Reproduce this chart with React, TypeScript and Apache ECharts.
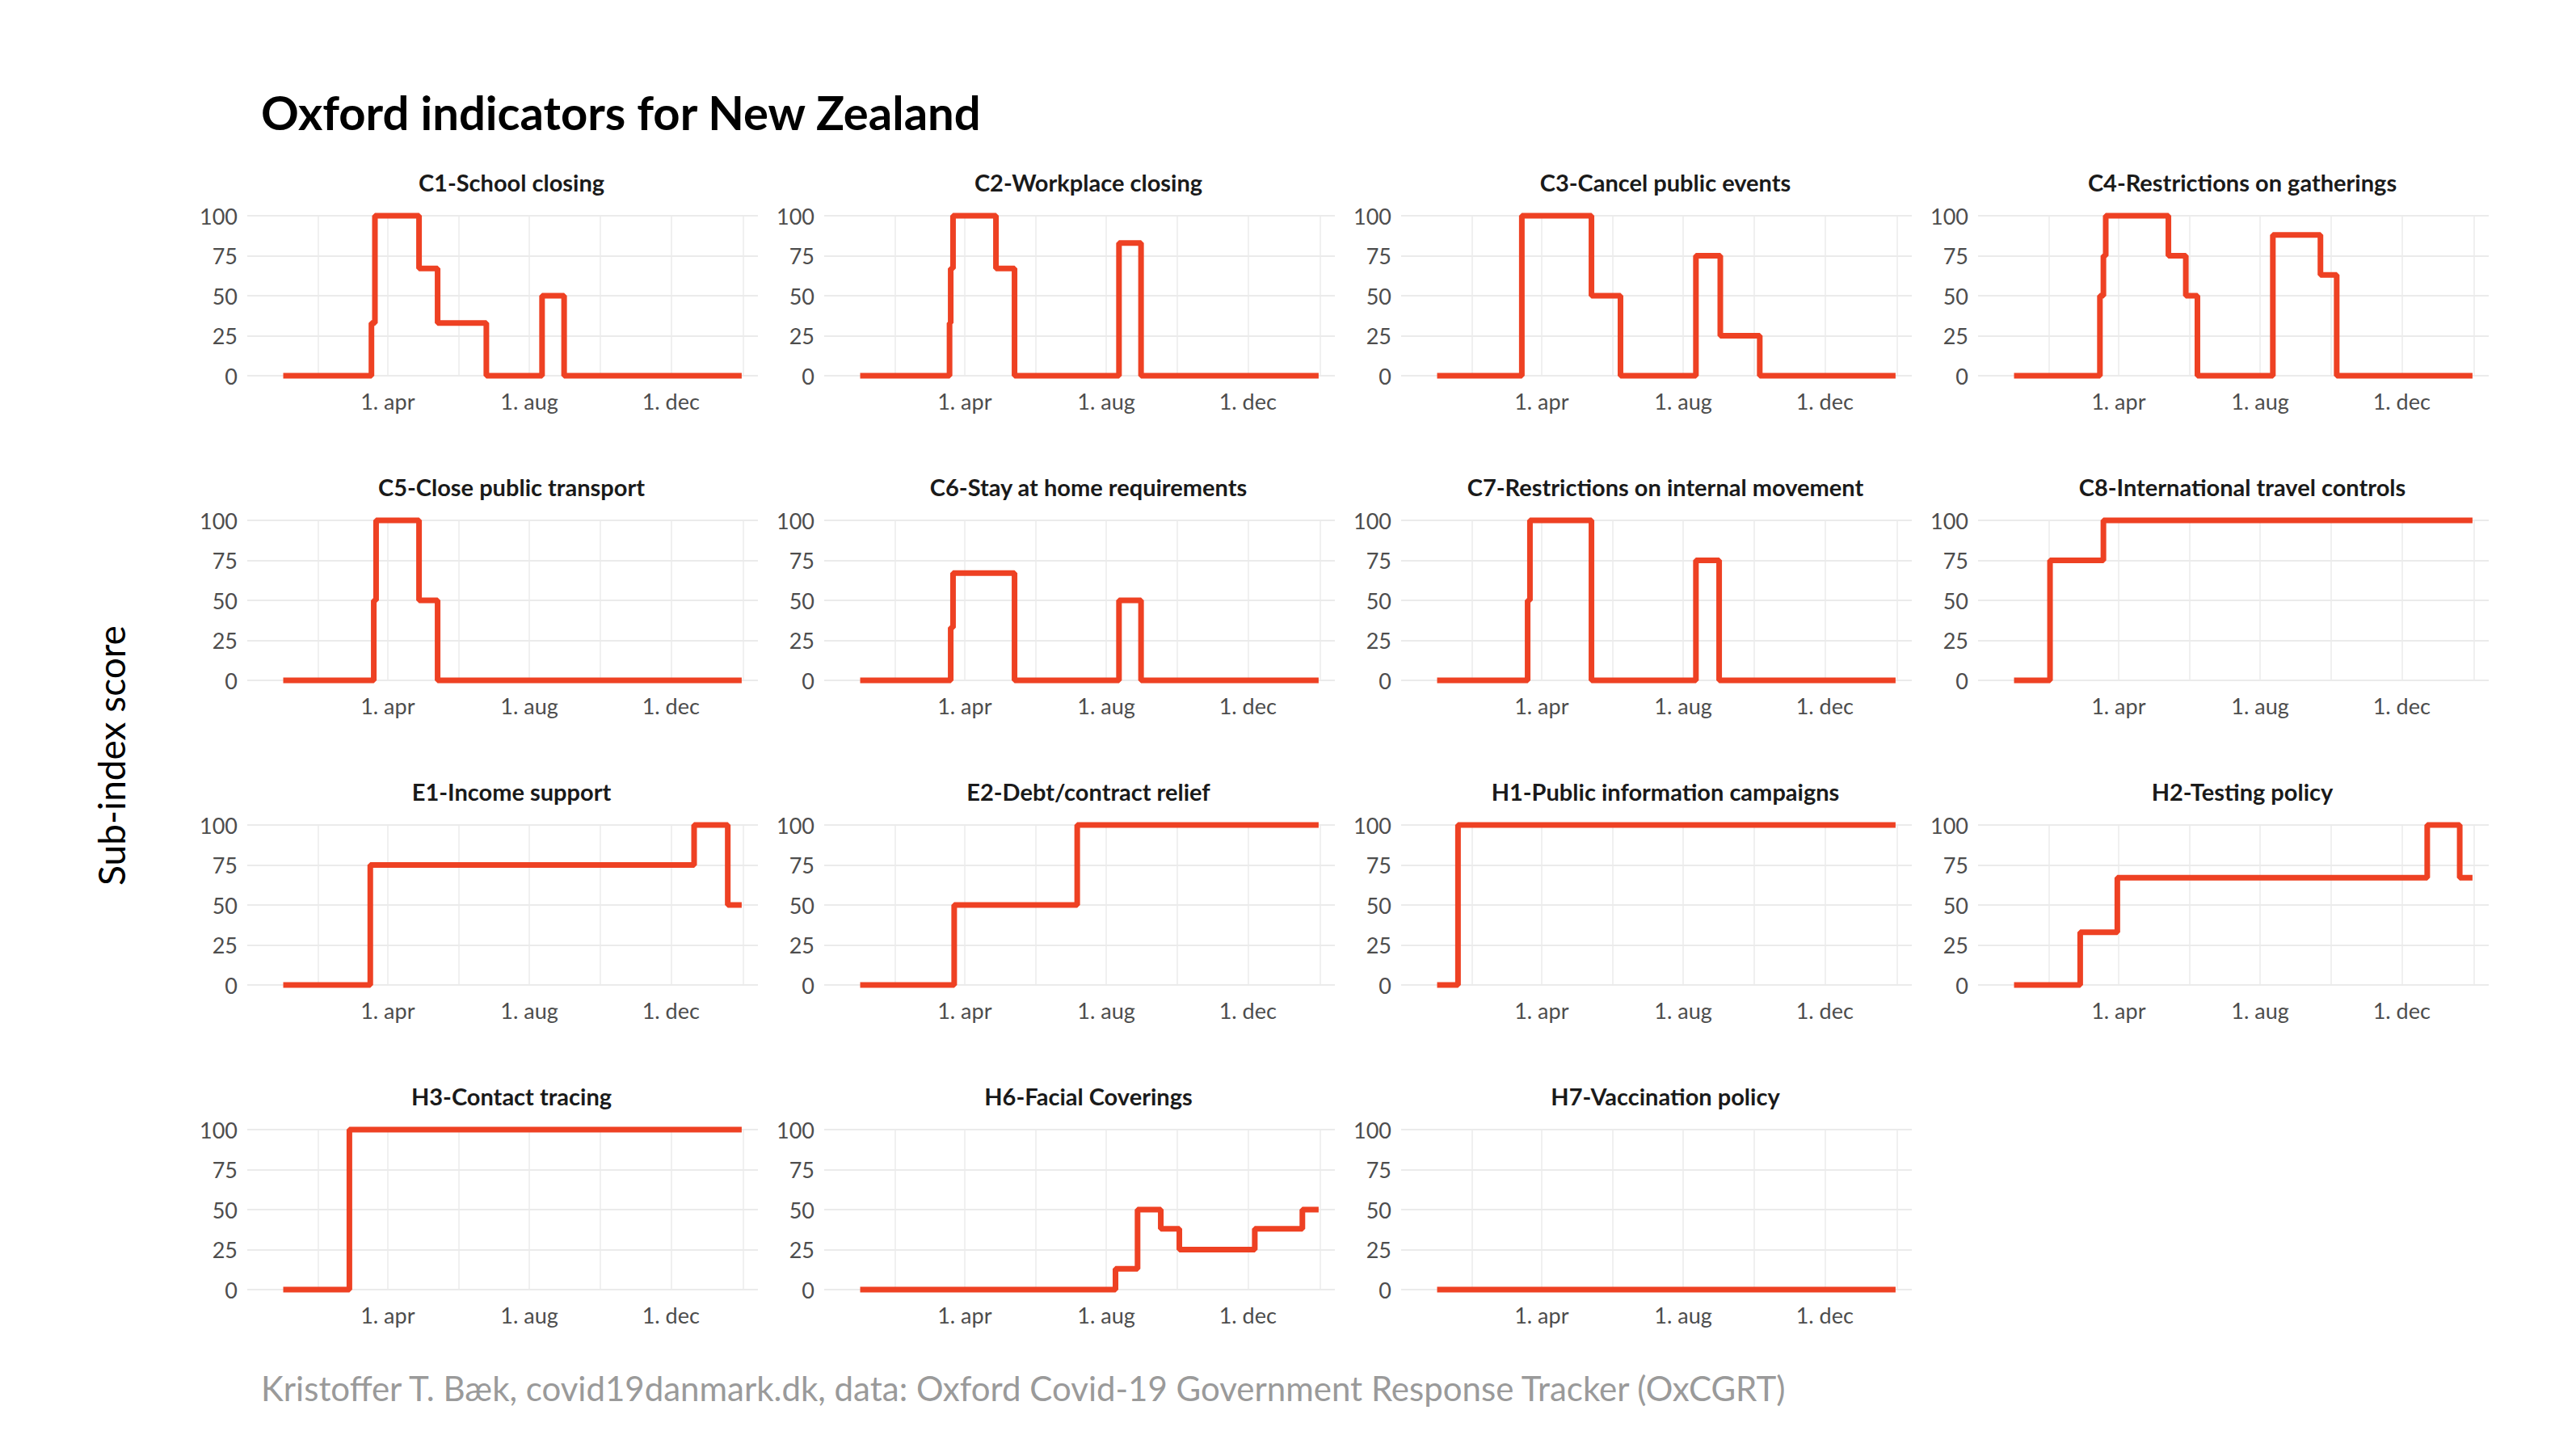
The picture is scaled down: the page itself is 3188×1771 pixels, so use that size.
import React, { useEffect, useRef } from 'react';
import * as echarts from 'echarts';

// step changes: [date from which the value holds, value]
const titles: string[] = [
  'C1-School closing', 'C2-Workplace closing', 'C3-Cancel public events', 'C4-Restrictions on gatherings',
  'C5-Close public transport', 'C6-Stay at home requirements', 'C7-Restrictions on internal movement', 'C8-International travel controls',
  'E1-Income support', 'E2-Debt/contract relief', 'H1-Public information campaigns', 'H2-Testing policy',
  'H3-Contact tracing', 'H6-Facial Coverings', 'H7-Vaccination policy',
];

const c1: [string, number][] = [['2020-01-02', 0], ['2020-03-18', 33], ['2020-03-21', 100], ['2020-04-28', 67], ['2020-05-14', 33], ['2020-06-25', 0], ['2020-08-12', 50], ['2020-08-31', 0]];
const c2: [string, number][] = [['2020-01-02', 0], ['2020-03-19', 33], ['2020-03-20', 67], ['2020-03-22', 100], ['2020-04-28', 67], ['2020-05-14', 0], ['2020-08-12', 83], ['2020-08-31', 0]];
const c3: [string, number][] = [['2020-01-02', 0], ['2020-03-15', 100], ['2020-05-14', 50], ['2020-06-08', 0], ['2020-08-12', 75], ['2020-09-02', 25], ['2020-10-06', 0]];
const c4: [string, number][] = [['2020-01-02', 0], ['2020-03-16', 50], ['2020-03-19', 75], ['2020-03-21', 100], ['2020-05-14', 75], ['2020-05-29', 50], ['2020-06-08', 0], ['2020-08-12', 88], ['2020-09-22', 63], ['2020-10-06', 0]];
const c5: [string, number][] = [['2020-01-02', 0], ['2020-03-20', 50], ['2020-03-22', 100], ['2020-04-28', 50], ['2020-05-14', 0]];
const c6: [string, number][] = [['2020-01-02', 0], ['2020-03-20', 33], ['2020-03-22', 67], ['2020-05-14', 0], ['2020-08-12', 50], ['2020-08-31', 0]];
const c7: [string, number][] = [['2020-01-02', 0], ['2020-03-20', 50], ['2020-03-22', 100], ['2020-05-14', 0], ['2020-08-12', 75], ['2020-09-01', 0]];
const c8: [string, number][] = [['2020-01-02', 0], ['2020-02-02', 75], ['2020-03-19', 100]];
const e1: [string, number][] = [['2020-01-02', 0], ['2020-03-17', 75], ['2020-12-21', 100], ['2021-01-19', 50]];
const e2: [string, number][] = [['2020-01-02', 0], ['2020-03-23', 50], ['2020-07-07', 100]];
const h1: [string, number][] = [['2020-01-02', 0], ['2020-01-20', 100]];
const h2: [string, number][] = [['2020-01-02', 0], ['2020-02-28', 33], ['2020-03-31', 67], ['2020-12-23', 100], ['2021-01-20', 67]];
const h3: [string, number][] = [['2020-01-02', 0], ['2020-02-28', 100]];
const h6: [string, number][] = [['2020-01-02', 0], ['2020-08-09', 13], ['2020-08-28', 50], ['2020-09-17', 38], ['2020-10-03', 25], ['2020-12-07', 38], ['2021-01-17', 50]];
const h7: [string, number][] = [['2020-01-02', 0]];
const indicators = [c1, c2, c3, c4, c5, c6, c7, c8, e1, e2, h1, h2, h3, h6, h7];

const endDate = '2021-01-31';
const tickDates: string[] = ['2020-04-01', '2020-08-01', '2020-12-01'];
const gridDates: string[] = ['2020-02-01', '2020-04-01', '2020-06-01', '2020-08-01', '2020-10-01', '2020-12-01', '2021-02-01'];
const monthNames = ['jan', 'feb', 'mar', 'apr', 'maj', 'jun', 'jul', 'aug', 'sep', 'okt', 'nov', 'dec'];

const ts = (d: string) => new Date(d + 'T00:00:00Z').getTime();

const App: React.FC = () => {
  const chartRef = useRef<HTMLDivElement>(null);

  useEffect(() => {
    document.body.style.margin = '0';
    if (!chartRef.current) return;
    const chart = echarts.init(chartRef.current, undefined, { renderer: 'svg' });

    const grids: any[] = [];
    const xAxes: any[] = [];
    const yAxes: any[] = [];
    const series: any[] = [];
    const titleTexts: any[] = [];

    indicators.forEach((steps, i) => {
      const r = Math.floor(i / 4);
      const c = i % 4;
      const left = 306 + c * 714;
      const top = 267 + r * 377;
      grids.push({ left, top, width: 632, height: 198 });
      titleTexts.push({
        text: titles[i], left: left + 322, top: top - 61, textAlign: 'center',
        textStyle: { fontFamily: 'Lato', fontWeight: 'bold', fontSize: 29, color: '#1a1a1a' },
      });
      xAxes.push({
        type: 'value', gridIndex: i, min: ts('2019-12-02'), max: ts('2021-02-14'),
        axisLine: { show: false }, axisTick: { show: false }, splitLine: { show: false },
        axisLabel: {
          customValues: tickDates.map(ts), margin: 18, color: '#4d4d4d', fontSize: 27, fontFamily: 'Lato',
          formatter: (v: number) => '1. ' + monthNames[new Date(v).getUTCMonth()],
        },
      });
      yAxes.push({
        type: 'value', gridIndex: i, min: 0, max: 100, interval: 25,
        axisLine: { show: false }, axisTick: { show: false },
        axisLabel: { margin: 12, color: '#4d4d4d', fontSize: 27, fontFamily: 'Lato' },
        splitLine: { lineStyle: { color: '#ebebeb', width: 2 } },
      });
      const pts = steps.map(([d, v]) => [ts(d), v]);
      pts.push([ts(endDate), steps[steps.length - 1][1]]);
      series.push({
        type: 'line', xAxisIndex: i, yAxisIndex: i, data: pts, step: 'end', showSymbol: false,
        clip: false, lineStyle: { color: '#ee4123', width: 7 },
        markLine: {
          silent: true, symbol: 'none', label: { show: false }, z: 0,
          lineStyle: { color: '#ebebeb', width: 1.5, type: 'solid' },
          data: gridDates.map((d) => ({ xAxis: ts(d) })),
        },
        z: 3,
      });
    });

    const options: echarts.EChartsOption = {
      animation: false,
      backgroundColor: '#ffffff',
      title: [
        { text: 'Oxford indicators for New Zealand', left: 318, top: 104, textStyle: { fontFamily: 'Lato', fontWeight: 'bold', fontSize: 58, color: '#000' } },
        ...titleTexts,
        { text: 'Kristoffer T. Bæk, covid19danmark.dk, data: Oxford Covid-19 Government Response Tracker (OxCGRT)', left: 318, top: 1692, textStyle: { fontFamily: 'Lato', fontWeight: 'normal', fontSize: 42, color: '#9a9a9a' } },
      ],
      graphic: [
        { type: 'text', x: 137, y: 935, rotation: Math.PI / 2, style: { text: 'Sub-index score', font: '46px Lato', fill: '#000', textAlign: 'center', textVerticalAlign: 'middle' } },
      ],
      grid: grids,
      xAxis: xAxes,
      yAxis: yAxes,
      series,
    };

    chart.setOption(options);
    return () => {
      chart.dispose();
    };
  }, []);

  return <div ref={chartRef} style={{ width: 3188, height: 1771 }} />;
};

export default App;
